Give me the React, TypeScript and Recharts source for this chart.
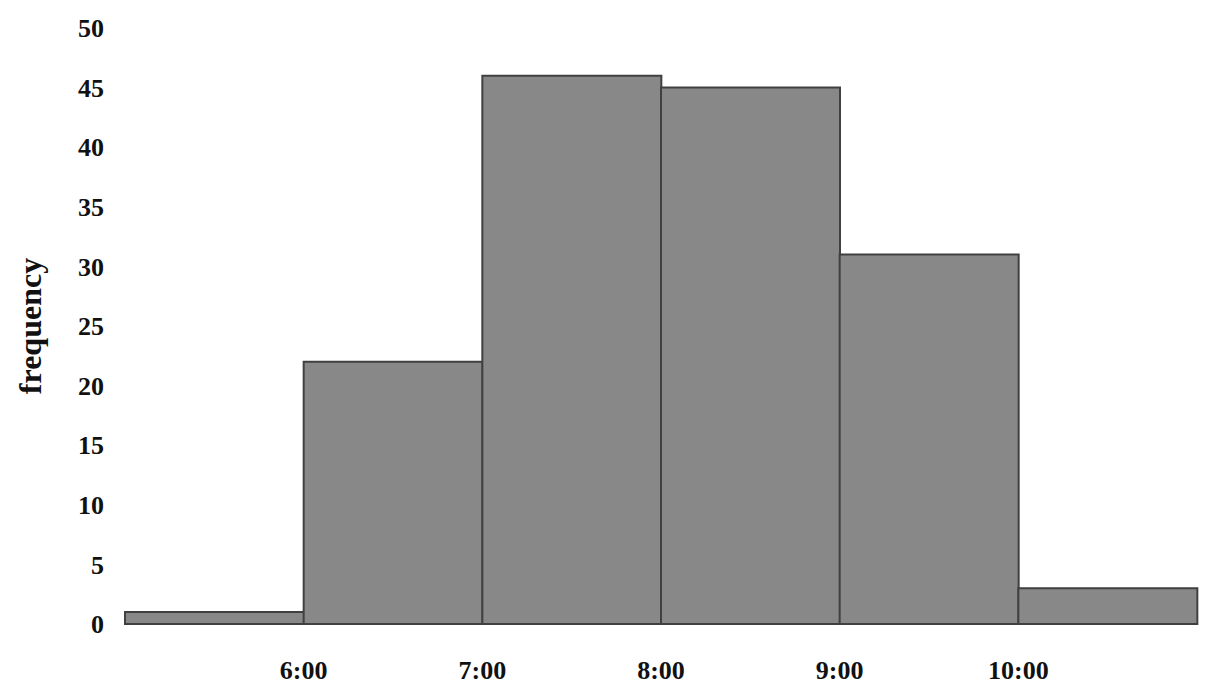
import { Bar, BarChart, XAxis, YAxis } from 'recharts';

// one bin per hour; each bin's right edge carries the hour label
const bins = ['5-6', '6-7', '7-8', '8-9', '9-10', '10-11'];
const frequency = [1, 22, 46, 45, 31, 3];
const edgeLabels = ['6:00', '7:00', '8:00', '9:00', '10:00', ''];
const yTicks = [0, 5, 10, 15, 20, 25, 30, 35, 40, 45, 50];

const data = bins.map((bin, i) => ({ bin, frequency: frequency[i] }));

const font = { fontSize: 26, fontWeight: 700, fill: '#111', fontFamily: '"Liberation Serif", serif' };

interface EdgeTickProps {
  x?: number;
  y?: number;
  index?: number;
  payload?: { offset?: number };
}

// put the label on the boundary between bars, not the bar centre
function EdgeTick({ x = 0, y = 0, index = 0, payload }: EdgeTickProps) {
  const half = payload?.offset ?? 0;
  return (
    <text x={x + half} y={y} dy="0.71em" textAnchor="middle" style={font} fill="#111">
      {edgeLabels[index]}
    </text>
  );
}

export default function App() {
  return (
    <div style={{ position: 'absolute', left: 0, top: 0, background: '#fff' }}>
      <BarChart
        width={1207}
        height={695}
        data={data}
        barCategoryGap={0}
        margin={{ top: 28, right: 10, bottom: 0, left: 0 }}
      >
        <XAxis
          dataKey="bin"
          axisLine={false}
          tickLine={false}
          tickSize={0}
          tickMargin={37}
          height={71}
          tick={<EdgeTick />}
          interval={0}
        />
        <YAxis
          domain={[0, 50]}
          ticks={yTicks}
          interval={0}
          axisLine={false}
          tickLine={false}
          tickSize={0}
          tickMargin={21}
          width={125}
          tick={font}
          label={{
            value: 'frequency',
            angle: -90,
            position: 'insideLeft',
            offset: 30,
            style: { ...font, fontSize: 32, textAnchor: 'middle' },
          }}
        />
        <Bar
          dataKey="frequency"
          fill="#888888"
          stroke="#404040"
          strokeWidth={2}
          isAnimationActive={false}
        />
      </BarChart>
    </div>
  );
}
